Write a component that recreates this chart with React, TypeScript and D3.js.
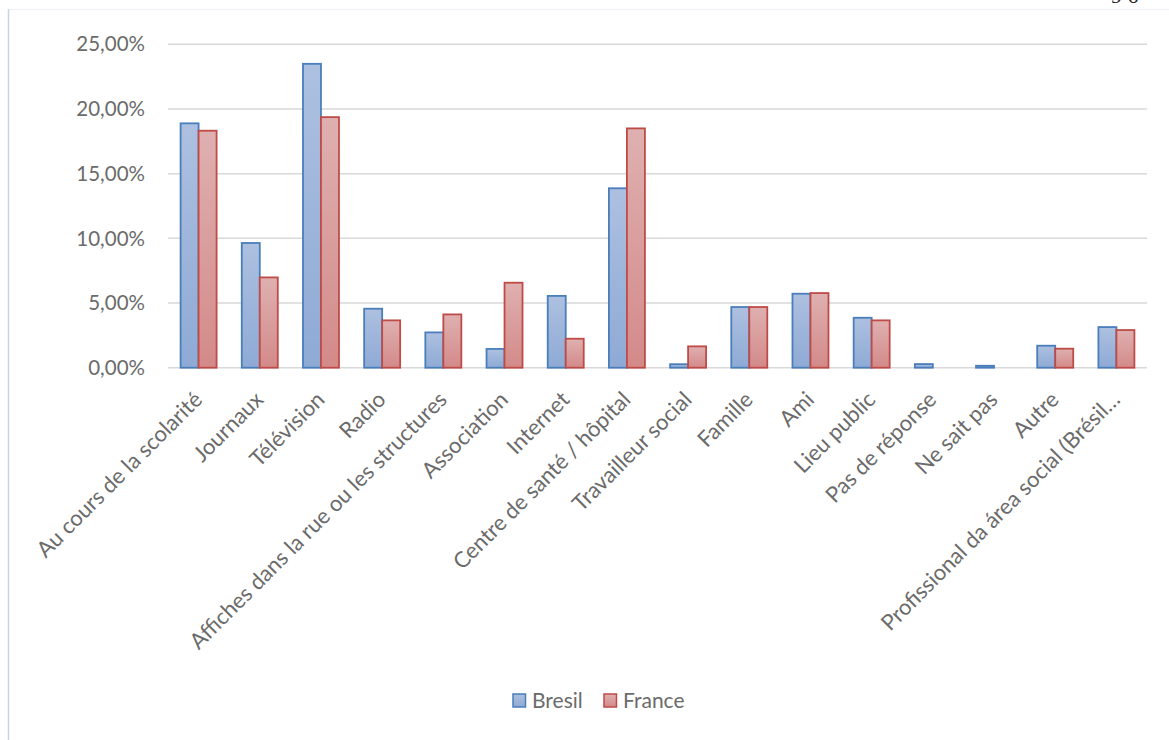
import React from "react";
import * as d3 from "d3";

const categories = [
  "Au cours de la scolarité",
  "Journaux",
  "Télévision",
  "Radio",
  "Affiches dans la rue ou les structures",
  "Association",
  "Internet",
  "Centre de santé / hôpital",
  "Travailleur social",
  "Famille",
  "Ami",
  "Lieu public",
  "Pas de réponse",
  "Ne sait pas",
  "Autre",
  "Profissional da área social (Brésil…",
];
const bresil = [18.89, 9.64, 23.49, 4.56, 2.73, 1.45, 5.55, 13.87, 0.27, 4.69, 5.72, 3.86, 0.28, 0.15, 1.7, 3.14];
const france = [18.32, 6.98, 19.37, 3.66, 4.12, 6.57, 2.24, 18.5, 1.65, 4.69, 5.77, 3.66, 0, 0, 1.47, 2.91];
const yTicks = [0, 5, 10, 15, 20, 25];
const seriesNames = ["Bresil", "France"];

const W = 1169;
const H = 740;
const FONT = "Lato, 'Open Sans', sans-serif";
const TXT = "#6b6b6b";

export default function App() {
  const x = d3.scaleBand<string>().domain(categories).range([168, 1147]);
  const y = d3.scaleLinear().domain([0, 25]).range([367.7, 44.3]);
  const barW = 18;
  const fmt = (v: number) => v.toFixed(2).replace(".", ",") + "%";
  const series = [
    { name: seriesNames[0], values: bresil, fill: "url(#gB)", stroke: "#4a7ebb" },
    { name: seriesNames[1], values: france, fill: "url(#gF)", stroke: "#be4b48" },
  ];
  const legendX = [513, 604];
  return (
    <svg width={W} height={H} style={{ position: "absolute", left: 0, top: 0, background: "#fff" }}>
      <defs>
        <linearGradient id="gB" x1="0" y1="0" x2="0" y2="1">
          <stop offset="0" stopColor="#adc0e0" />
          <stop offset="1" stopColor="#8eaad5" />
        </linearGradient>
        <linearGradient id="gF" x1="0" y1="0" x2="0" y2="1">
          <stop offset="0" stopColor="#dfb0b0" />
          <stop offset="1" stopColor="#d38a89" />
        </linearGradient>
        <clipPath id="top">
          <rect x={0} y={0} width={W} height={4} />
        </clipPath>
      </defs>
      <rect x={0} y={0} width={W} height={H} fill="#fff" />
      <g clipPath="url(#top)">
        <text x={1111} y={3} fontFamily="'Liberation Serif', serif" fontSize={22} fill="#222">9 6</text>
      </g>
      <line x1={8} x2={W} y1={9.5} y2={9.5} stroke="#eef0f6" strokeWidth={1} />
      <line x1={8.5} x2={8.5} y1={9} y2={H} stroke="#c6d5ea" strokeWidth={1.5} />
      {yTicks.map((t) => (
        <g key={t}>
          <line x1={168} x2={1147} y1={y(t)} y2={y(t)} stroke="#d9d9d9" strokeWidth={1.5} />
          <text x={145} y={y(t)} dy="0.35em" textAnchor="end" fontFamily={FONT} fontSize={20.5} fill={TXT}>
            {fmt(t)}
          </text>
        </g>
      ))}
      {series.map((s, si) =>
        categories.map((c, i) => {
          const cx = (x(c) as number) + x.bandwidth() / 2;
          const x0 = cx - barW + si * barW;
          const v = s.values[i];
          if (v <= 0) return null;
          return (
            <rect
              key={s.name + i}
              x={x0}
              y={y(v)}
              width={barW}
              height={y(0) - y(v)}
              fill={s.fill}
              stroke={s.stroke}
              strokeWidth={1.8}
            />
          );
        })
      )}
      {categories.map((c) => {
        const cx = (x(c) as number) + x.bandwidth() / 2;
        const ax = cx + 5;
        const ay = 401;
        return (
          <text
            key={c}
            x={ax}
            y={ay}
            transform={`rotate(-45 ${ax} ${ay})`}
            textAnchor="end"
            fontFamily={FONT}
            fontSize={22}
            fill={TXT}
          >
            {c}
          </text>
        );
      })}
      {series.map((s, si) => {
        const lx = legendX[si];
        return (
          <g key={s.name}>
            <rect x={lx} y={694} width={12.5} height={13} fill={s.fill} stroke={s.stroke} strokeWidth={1.5} />
            <text x={lx + 19} y={701} dy="0.35em" fontFamily={FONT} fontSize={21} fill={TXT}>
              {s.name}
            </text>
          </g>
        );
      })}
    </svg>
  );
}
